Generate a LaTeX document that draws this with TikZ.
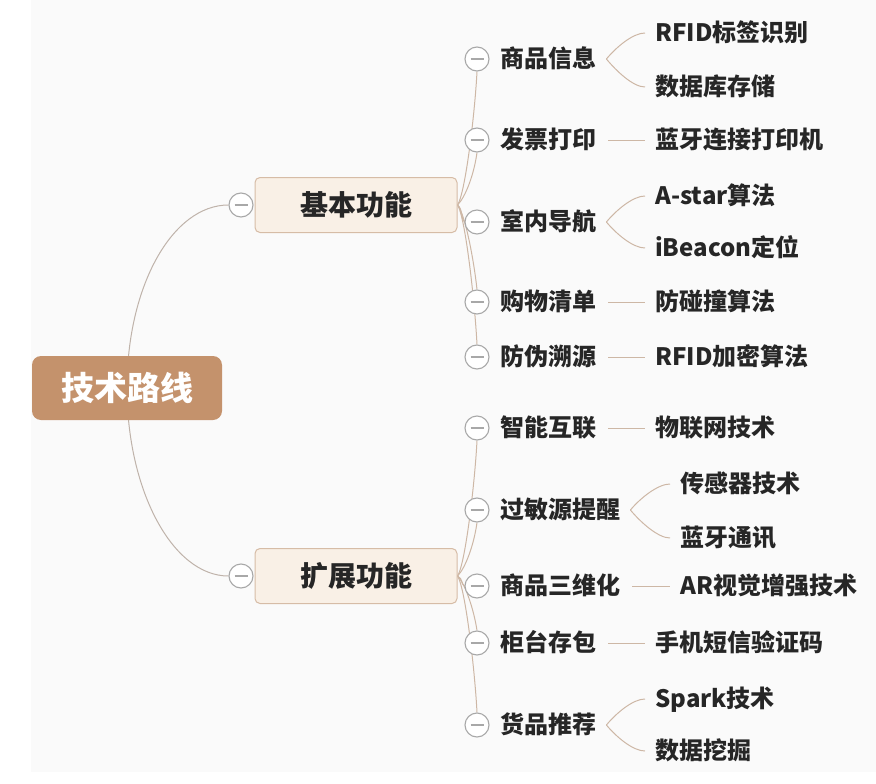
\documentclass[tikz,border=0pt]{standalone}
\usepackage{fontspec}
\setmainfont{Noto Sans CJK SC}
\usetikzlibrary{backgrounds}
\definecolor{bgc}{HTML}{FAFAFA}
\definecolor{rootc}{HTML}{C4926C}
\definecolor{boxfill}{HTML}{F9F0E6}
\definecolor{boxline}{HTML}{D6BCA6}
\definecolor{txt}{HTML}{262626}
\definecolor{linkc}{HTML}{CDB7A5}
\definecolor{mainlink}{HTML}{BFB3AA}
\definecolor{foldc}{HTML}{A8A8A8}
\begin{document}
\begin{tikzpicture}[x=1pt,y=-1pt,
  rootnode/.style={fill=rootc, rounded corners=9pt, minimum width=190pt, minimum height=64pt, inner sep=0pt, text=white, font=\fontsize{33}{33}\selectfont\bfseries},
  mainbox/.style={fill=boxfill, draw=boxline, line width=1pt, rounded corners=5pt, minimum width=202pt, minimum height=55pt, inner sep=0pt, text=txt, font=\fontsize{28}{28}\selectfont\bfseries},
  fold/.style={circle, draw=foldc, fill=white, line width=1.1pt, minimum size=24pt, inner sep=0pt,
    path picture={\draw[foldc, line width=1.3pt] ([xshift=-6.5pt]path picture bounding box.center) -- ([xshift=6.5pt]path picture bounding box.center);}},
  leaf/.style={anchor=west, inner sep=0pt, text height=20pt, text depth=3.4pt, text=txt, font=\fontsize{24}{24}\selectfont\bfseries},
  link/.style={draw=linkc, line width=1pt},
  mlink/.style={draw=mainlink, line width=1pt}]
\useasboundingbox (0,0) rectangle (876,784);

% root and main boxes
\node[rootnode] (root) at (127,388) {技术路线};
\node[mainbox] (b1) at (356,205) {基本功能};
\node[mainbox] (b2) at (356,576) {扩展功能};
\node[fold] (k1) at (241,205) {};
\node[fold] (k2) at (241,576) {};

% level 2 (basic)
\node[fold] (c11) at (477,59) {};
\node[fold] (c12) at (477,140) {};
\node[fold] (c13) at (477,222) {};
\node[fold] (c14) at (477,302) {};
\node[fold] (c15) at (477,357) {};
\node[leaf] (p11) at (500,59) {商品信息};
\node[leaf] (p12) at (500,140) {发票打印};
\node[leaf] (p13) at (500,222) {室内导航};
\node[leaf] (p14) at (500,302) {购物清单};
\node[leaf] (p15) at (500,357) {防伪溯源};

% level 2 (extended)
\node[fold] (c21) at (477,428) {};
\node[fold] (c22) at (477,510) {};
\node[fold] (c23) at (477,586) {};
\node[fold] (c24) at (477,643) {};
\node[fold] (c25) at (477,725) {};
\node[leaf] (p21) at (500,428) {智能互联};
\node[leaf] (p22) at (500,510) {过敏源提醒};
\node[leaf] (p23) at (500,586) {商品三维化};
\node[leaf] (p24) at (500,643) {柜台存包};
\node[leaf] (p25) at (500,725) {货品推荐};

% level 3
\node[leaf] (q11a) at (655,33) {RFID标签识别};
\node[leaf] (q11b) at (655,87) {数据库存储};
\node[leaf] (q12) at (655,140) {蓝牙连接打印机};
\node[leaf] (q13a) at (655,196) {A-star算法};
\node[leaf] (q13b) at (655,248) {iBeacon定位};
\node[leaf] (q14) at (655,302) {防碰撞算法};
\node[leaf] (q15) at (655,357) {RFID加密算法};
\node[leaf] (q21) at (655,428) {物联网技术};
\node[leaf] (q22a) at (680,484) {传感器技术};
\node[leaf] (q22b) at (680,538) {蓝牙通讯};
\node[leaf] (q23) at (680,586) {AR视觉增强技术};
\node[leaf] (q24) at (655,643) {手机短信验证码};
\node[leaf] (q25a) at (655,699) {Spark技术};
\node[leaf] (q25b) at (655,751) {数据挖掘};

\begin{scope}[on background layer]
  \fill[white] (0,0) rectangle (876,784);
  \fill[bgc] (31,0) rectangle (876,772);
  % main curves
  \draw[mlink] (root.center) .. controls +(0,-102) and +(-56,0) .. (k1.west);
  \draw[mlink] (root.center) .. controls +(0,102) and +(-56,0) .. (k2.west);
  % level 2 connectors
  \draw[link] (b1.east) .. controls +(8,-12) and +(-2,40) .. (c11.south);
  \draw[link] (b1.east) .. controls +(8,-8) and +(-3,22) .. (c12.south);
  \draw[link] (b1.east) .. controls +(6,5) and +(-4,-3) .. (c13.west);
  \draw[link] (b1.east) .. controls +(8,10) and +(-3,-28) .. (c14.north);
  \draw[link] (b1.east) .. controls +(8,12) and +(-2,-40) .. (c15.north);
  \draw[link] (b2.east) .. controls +(8,-12) and +(-2,40) .. (c21.south);
  \draw[link] (b2.east) .. controls +(8,-8) and +(-3,22) .. (c22.south);
  \draw[link] (b2.east) .. controls +(6,3) and +(-4,-2) .. (c23.west);
  \draw[link] (b2.east) .. controls +(8,8) and +(-3,-20) .. (c24.north);
  \draw[link] (b2.east) .. controls +(8,12) and +(-2,-40) .. (c25.north);
  % level 3 connectors
  \draw[link] ([xshift=10pt]p11.east) .. controls +(10,-12) and +(-12,0) .. ([xshift=-10pt]q11a.west);
  \draw[link] ([xshift=10pt]p11.east) .. controls +(10,12) and +(-12,0) .. ([xshift=-10pt]q11b.west);
  \draw[link] ([xshift=12pt]p12.east) -- ([xshift=-10pt]q12.west);
  \draw[link] ([xshift=10pt]p13.east) .. controls +(10,-12) and +(-12,0) .. ([xshift=-10pt]q13a.west);
  \draw[link] ([xshift=10pt]p13.east) .. controls +(10,12) and +(-12,0) .. ([xshift=-10pt]q13b.west);
  \draw[link] ([xshift=12pt]p14.east) -- ([xshift=-10pt]q14.west);
  \draw[link] ([xshift=12pt]p15.east) -- ([xshift=-10pt]q15.west);
  \draw[link] ([xshift=12pt]p21.east) -- ([xshift=-10pt]q21.west);
  \draw[link] ([xshift=10pt]p22.east) .. controls +(10,-12) and +(-12,0) .. ([xshift=-10pt]q22a.west);
  \draw[link] ([xshift=10pt]p22.east) .. controls +(10,12) and +(-12,0) .. ([xshift=-10pt]q22b.west);
  \draw[link] ([xshift=12pt]p23.east) -- ([xshift=-10pt]q23.west);
  \draw[link] ([xshift=12pt]p24.east) -- ([xshift=-10pt]q24.west);
  \draw[link] ([xshift=10pt]p25.east) .. controls +(10,-12) and +(-12,0) .. ([xshift=-10pt]q25a.west);
  \draw[link] ([xshift=10pt]p25.east) .. controls +(10,12) and +(-12,0) .. ([xshift=-10pt]q25b.west);
\end{scope}
\end{tikzpicture}
\end{document}
